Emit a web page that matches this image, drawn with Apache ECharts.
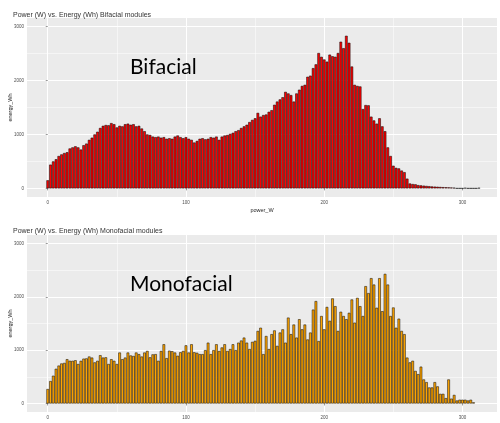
<!DOCTYPE html>
<html>
<head>
<meta charset="utf-8">
<script src="https://cdn.jsdelivr.net/npm/echarts@6/dist/echarts.min.js"></script>
<style>
  html, body { margin: 0; padding: 0; background: #fff; }
  #chart { width: 500px; height: 423px; }
</style>
</head>
<body>
<div id="chart"></div>
<script>
// bin position (W), 2 W steps
const powerW = [
  0, 2, 4, 6, 8, 10, 12, 14, 16, 18, 20, 22, 24, 26, 28, 30, 32, 34, 36, 38,
  40, 42, 44, 46, 48, 50, 52, 54, 56, 58, 60, 62, 64, 66, 68, 70, 72, 74, 76, 78,
  80, 82, 84, 86, 88, 90, 92, 94, 96, 98, 100, 102, 104, 106, 108, 110, 112, 114, 116, 118,
  120, 122, 124, 126, 128, 130, 132, 134, 136, 138, 140, 142, 144, 146, 148, 150, 152, 154, 156, 158,
  160, 162, 164, 166, 168, 170, 172, 174, 176, 178, 180, 182, 184, 186, 188, 190, 192, 194, 196, 198,
  200, 202, 204, 206, 208, 210, 212, 214, 216, 218, 220, 222, 224, 226, 228, 230, 232, 234, 236, 238,
  240, 242, 244, 246, 248, 250, 252, 254, 256, 258, 260, 262, 264, 266, 268, 270, 272, 274, 276, 278,
  280, 282, 284, 286, 288, 290, 292, 294, 296, 298, 300, 302, 304, 306, 308, 310, 312
];

// energy (Wh) per bin, bifacial modules
const energyBifacial = [
  150, 440, 500, 540, 600, 630, 655, 670, 740, 760,
  780, 760, 720, 800, 830, 900, 940, 1000, 1050, 1120,
  1160, 1175, 1170, 1210, 1190, 1130, 1160, 1150, 1190, 1200,
  1180, 1190, 1150, 1160, 1110, 1060, 1000, 990, 960, 950,
  960, 940, 950, 920, 930, 920, 960, 980, 950, 930,
  950, 920, 900, 850, 880, 920, 930, 910, 920, 950,
  940, 960, 900, 960, 980, 990, 1010, 1030, 1060, 1080,
  1120, 1150, 1180, 1230, 1270, 1300, 1400, 1330, 1360, 1370,
  1420, 1450, 1550, 1610, 1650, 1690, 1790, 1760, 1730, 1610,
  1760, 1830, 1900, 1920, 2070, 2090, 2230, 2300, 2510, 2440,
  2390, 2350, 2480, 2450, 2440, 2510, 2720, 2600, 2830, 2700,
  2260, 1920, 1900, 1890, 1470, 1545, 1540, 1330, 1260, 1200,
  1300, 1150, 1060, 760, 600, 420, 380, 370, 330, 300,
  180, 90, 80, 75, 60, 55, 50, 45, 40, 35,
  32, 30, 26, 22, 20, 18, 15, 12, 0, 0,
  0, 8, 0, 0, 0, 0, 8
];

// energy (Wh) per bin, monofacial modules
const energyMonofacial = [
  270, 420, 520, 650, 710, 750, 760, 830, 800, 800,
  810, 740, 800, 840, 845, 880, 860, 770, 800, 905,
  860, 865, 740, 830, 800, 740, 955, 830, 860, 955,
  900, 890, 955, 925, 880, 955, 985, 865, 920, 925,
  800, 985, 1110, 850, 990, 980, 955, 895, 960, 985,
  1090, 955, 1110, 960, 950, 925, 925, 1000, 1140, 925,
  1000, 1110, 985, 1050, 1110, 985, 1020, 1110, 1000, 1140,
  1180, 1235, 1140, 1020, 1155, 1175, 1360, 1420, 925, 1265,
  1020, 1300, 1370, 1080, 1330, 1390, 1140, 1610, 1300, 1480,
  1235, 1580, 1390, 1480, 1200, 1330, 1760, 1920, 1170, 1640,
  1390, 1810, 1550, 1970, 1825, 1360, 1720, 1640, 1580, 1700,
  1950, 1515, 1980, 1825, 1640, 2200, 2070, 2350, 2230, 1795,
  2350, 1730, 2430, 2230, 1640, 1800, 1420, 1590, 1360, 1300,
  860, 770, 800, 610, 550, 690, 450, 400, 300, 300,
  400, 320, 180, 180, 100, 450, 90, 160, 55, 70,
  70, 70, 55, 70, 20
];

const xMajor = [0, 100, 200, 300];
const xMinor = [50, 150, 250];
const yMajor = [0, 1000, 2000, 3000];
const yMinor = [500, 1500, 2500];

const titles = [
  'Power (W) vs. Energy (Wh) Bifacial modules',
  'Power (W) vs. Energy (Wh) Monofacial modules'
];
const panelLabels = ['Bifacial', 'Monofacial'];

const chart = echarts.init(document.getElementById('chart'), null, { renderer: 'canvas' });

const pairs = (vals) => vals.map((v, i) => [powerW[i], v]);

const X_RANGE = { min: -15, max: 325 };
const Y_RANGE = { min: -160, max: 3160 };
const axisText = { color: '#4d4d4d', fontSize: 4.5, fontFamily: 'Liberation Sans' };
const nameText = { color: '#222', fontSize: 5.5, fontFamily: 'Liberation Sans' };

function xAxis(idx) {
  return {
    type: 'value', gridIndex: idx, ...X_RANGE,
    name: 'power_W', nameLocation: 'middle', nameGap: 10, nameMoveOverlap: false, nameTextStyle: nameText,
    axisLine: { show: false },
    axisTick: { show: true, length: 2, customValues: xMajor, lineStyle: { color: '#333', width: 0.5 } },
    axisLabel: { ...axisText, margin: 3, customValues: xMajor, formatter: v => String(v) },
    splitLine: { show: true, lineStyle: { color: '#fff', width: 1 } }
  };
}

function yAxis(idx) {
  return {
    type: 'value', gridIndex: idx, ...Y_RANGE,
    name: 'energy_Wh', nameLocation: 'middle', nameGap: 14, nameRotate: 90, nameMoveOverlap: false, nameTextStyle: nameText,
    axisLine: { show: false },
    axisTick: { show: true, length: 2, customValues: yMajor, lineStyle: { color: '#333', width: 0.5 } },
    axisLabel: { ...axisText, margin: 3, customValues: yMajor, formatter: v => String(v) },
    splitLine: { show: true, lineStyle: { color: '#fff', width: 1 } }
  };
}

// hidden axes that only carry the thinner minor grid lines
function minorX(idx) {
  return {
    type: 'value', gridIndex: idx, ...X_RANGE, position: 'top',
    axisLine: { show: false }, axisLabel: { show: false },
    axisTick: { show: false, customValues: xMinor },
    splitLine: { show: true, lineStyle: { color: '#fff', width: 0.5 } }
  };
}
function minorY(idx) {
  return {
    type: 'value', gridIndex: idx, ...Y_RANGE, position: 'right',
    axisLine: { show: false }, axisLabel: { show: false },
    axisTick: { show: false, customValues: yMinor },
    splitLine: { show: true, lineStyle: { color: '#fff', width: 0.5 } }
  };
}

function bars(idx, vals, fill) {
  return {
    type: 'bar', xAxisIndex: idx, yAxisIndex: idx, z: 2,
    data: pairs(vals), barWidth: 2.6,
    itemStyle: { color: fill, borderColor: '#000', borderWidth: 0.5 },
    animation: false
  };
}

const gridBase = { left: 27, width: 470, show: true, backgroundColor: '#ebebeb', borderWidth: 0, containLabel: false, outerBoundsMode: 'none' };

chart.setOption({
  backgroundColor: '#ffffff',
  animation: false,
  title: [
    { text: titles[0], left: 8, top: 7, textStyle: { fontSize: 7, fontWeight: 'normal', color: '#333', fontFamily: 'Liberation Sans' } },
    { text: titles[1], left: 8, top: 223, textStyle: { fontSize: 7, fontWeight: 'normal', color: '#333', fontFamily: 'Liberation Sans' } }
  ],
  grid: [
    { ...gridBase, top: 18, height: 179 },
    { ...gridBase, top: 235, height: 177 }
  ],
  xAxis: [xAxis(0), xAxis(1), minorX(0), minorX(1)],
  yAxis: [yAxis(0), yAxis(1), minorY(0), minorY(1)],
  graphic: [
    { type: 'text', left: 130, top: 57, z: 10, style: { text: panelLabels[0], fontSize: 21, fontFamily: 'Lato', fill: '#000' } },
    { type: 'text', left: 130, top: 274, z: 10, style: { text: panelLabels[1], fontSize: 21, fontFamily: 'Lato', fill: '#000' } }
  ],
  series: [
    bars(0, energyBifacial, '#ff0000'),
    bars(1, energyMonofacial, '#ffa500')
  ]
});
</script>
</body>
</html>
